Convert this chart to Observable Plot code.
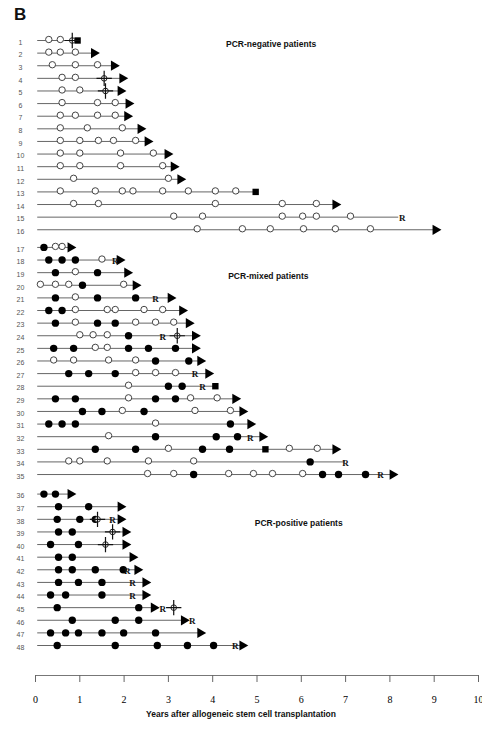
<!DOCTYPE html>
<html><head><meta charset="utf-8">
<script src="https://cdn.jsdelivr.net/npm/d3@7"></script>
<script src="https://cdn.jsdelivr.net/npm/@observablehq/plot@0.6"></script>
<style>
body{margin:0;background:#fff;}
#wrap{position:relative;width:482px;height:729px;}
#panel{position:absolute;left:14px;top:5px;font:bold 17px "Liberation Sans",Arial,sans-serif;color:#111;}
</style></head><body>
<div id="wrap"><div id="panel">B</div><div id="chart"></div></div>
<script>
// ---- data ----
const patients = d3.range(1, 49);
const groupNames = ["PCR-negative patients", "PCR-mixed patients", "PCR-positive patients"];
const groupFirst = [1, 17, 36];
const groupLabelX = [4.3, 4.35, 4.95];
const groupLabelRow = [1, 19, 38];
const xTicks = d3.range(0, 11);
const axisTitle = "Years after allogeneic stem cell transplantation";

// follow-up end (years) per patient
const lineEnds = [0.95,1.32,1.77,1.96,1.92,2.1,2.07,2.37,2.53,2.98,3.12,3.27,4.97,6.77,8.2,9.03,
  0.79,1.9,2.07,2.26,3.05,3.31,3.46,3.6,3.6,3.72,3.9,4.06,4.51,4.67,4.85,5.12,6.77,7.0,8.06,
  0.79,1.92,1.92,2.03,2.03,2.19,2.3,2.48,2.48,2.67,3.35,3.72,4.67];
// a = alive (arrow), s = dead (square), n = none
const endTypes = ["s","a","a","a","a","a","a","a","a","a","a","a","s","a","n","a",
  "a","a","a","a","a","a","a","a","a","a","a","s","a","a","a","a","a","n","a",
  "a","a","a","a","a","a","a","a","a","a","a","a","a"];

// PCR-negative samples (open circles)
const openVals = [
 [0.3,0.56],[0.3,0.56,0.9],[0.38,0.9,1.4],[0.6,0.9],[0.6,1.0],[0.6,1.4,1.8],[0.56,0.9,1.4,1.8],
 [0.56,1.17,1.96],[0.56,1.0,1.42,1.76,2.26],[0.56,1.0,1.92,2.66],[0.56,1.0,1.92,2.87],[0.86,3.0],
 [0.56,1.35,1.96,2.2,2.87,3.45,4.06,4.52],[0.86,1.42,4.06,5.57,6.34],[3.12,3.77,5.57,6.03,6.34,7.11],
 [3.65,4.67,5.3,6.05,6.77,7.56],
 [0.45,0.6],[1.5],[0.9],[0.11,0.45,0.75,1.99],[0.9],[0.9,1.62,1.8,2.45,2.87],[0.9,2.26,2.71,3.12],
 [1.0,1.3,1.62],[1.35,1.62],[0.41,0.86,1.65,2.26],[2.26,2.71,3.16],[2.1],[2.1,3.5,4.1],[1.96,3.6,4.4],
 [2.71],[1.65],[3.0,5.73,6.36],[0.75,1.0,1.62,2.55,3.57],[2.53,3.12,4.36,4.92,5.35,6.03],
 [],[],[],[],[],[],[],[],[],[],[],[],[]
];
// PCR-positive samples (filled circles)
const filledVals = [
 [],[],[],[],[],[],[],[],[],[],[],[],[],[],[],[],
 [0.19],[0.3,0.6,0.9],[0.45,1.4],[1.06],[0.45,1.4,2.26],[0.3,0.6],[0.45,1.4,1.8],[2.1],
 [0.41,0.86,2.1,2.55,3.16],[2.71,3.46],[0.75,1.2,1.8],[3.0,3.31],[0.45,0.9,2.71,3.16],[1.06,1.5,2.45],
 [0.3,0.6,0.9,4.4],[2.71,4.08,4.56],[1.35,2.26,3.77,4.38],[6.2],[3.57,6.48,6.84,7.45],
 [0.19,0.45],[0.52,1.2],[0.49,1.0,1.35],[0.52,0.83],[0.34,0.97],[0.52,0.83],[0.52,0.83,1.35,1.98],
 [0.52,0.97,1.5],[0.34,0.68,1.5],[0.49,2.33],[0.83,1.8,2.33],[0.34,0.68,0.97,1.5,1.99,2.71],
 [0.49,1.8,2.75,3.43,4.02]
];
// relapse markers "R"
const relapsePatient = [15,18,21,24,27,28,32,34,35,38,42,43,44,45,46,48];
const relapseYear    = [8.28,1.8,2.71,2.87,3.6,3.77,4.85,7.0,7.79,1.74,2.07,2.19,2.19,2.87,3.54,4.51];
// DLI / cross markers
const crossPatient = [1,4,5,24,38,39,40,45];
const crossYear    = [0.83,1.55,1.58,3.2,1.4,1.74,1.58,3.12];
// intermediate squares
const squarePatient = [33];
const squareYear = [5.19];

// ---- build tables ----
const gap = p => p >= groupFirst[2] ? 0.95 : p >= groupFirst[1] ? 0.4 : 0;
const pos = p => p + gap(p);
const rows = patients.map((p, i) => ({p, pos: pos(p), end: lineEnds[i], type: endTypes[i]}));
const openPts = patients.flatMap((p, i) => openVals[i].map(x => ({x, y: pos(p)})));
const filledPts = patients.flatMap((p, i) => filledVals[i].map(x => ({x, y: pos(p)})));
const relapses = relapsePatient.map((p, i) => ({x: relapseYear[i], y: pos(p)}));
const crosses = crossPatient.map((p, i) => ({x: crossYear[i], y: pos(p)}));
const squares = squarePatient.map((p, i) => ({x: squareYear[i], y: pos(p)}))
  .concat(rows.filter(d => d.type === "s").map(d => ({x: d.end, y: d.pos})));
const arrows = rows.filter(d => d.type === "a");
const groupLabels = groupNames.map((t, i) => ({t, x: groupLabelX[i], y: pos(groupLabelRow[i])}));

const chart = Plot.plot({
  width: 482, height: 729,
  marginLeft: 35, marginRight: 4, marginTop: 0, marginBottom: 54,
  style: {background: "#fff", fontFamily: "'Liberation Sans', Arial, sans-serif"},
  x: {domain: [0, 10]},
  y: {domain: [1, 48.95], range: [40, 645], axis: null},
  marks: [
    Plot.frame({anchor: "bottom", stroke: "#777"}),
    Plot.axisX({ticks: xTicks, tickSize: 7, tickPadding: 13, fontSize: 10,
      fontFamily: "'Liberation Serif', serif", label: null, stroke: "#666"}),
    Plot.text([axisTitle], {frameAnchor: "bottom", dx: -16, dy: 41, fontSize: 8.5, fontWeight: "bold", fill: "#111"}),
    Plot.ruleY(rows, {y: "pos", x1: 0.05, x2: "end", stroke: "#666", strokeWidth: 1}),
    Plot.text(rows, {x: 0, y: "pos", text: d => String(d.p), dx: -15, dy: 2, fontSize: 7, fill: "#555"}),
    Plot.dot(openPts, {x: "x", y: "y", r: 3.2, fill: "#fff", stroke: "#444", strokeWidth: 1, dy: -1}),
    Plot.dot(filledPts, {x: "x", y: "y", r: 3.7, fill: "#000"}),
    Plot.dot(squares, {x: "x", y: "y", symbol: "square", r: 3.6, fill: "#000"}),
    Plot.dot(arrows, {x: "end", y: "pos", symbol: "triangle", rotate: 90, r: 3.8, fill: "#000"}),
    Plot.dot(crosses, {x: "x", y: "y", r: 2.8, fill: "#fff", stroke: "#222", strokeWidth: 1}),
    Plot.dot(crosses, {x: "x", y: "y", symbol: "plus", r: 5, stroke: "#111", strokeWidth: 1.2}),
    Plot.text(relapses, {x: "x", y: "y", text: () => "R", fontSize: 9, fontWeight: "bold",
      fontFamily: "'Liberation Serif', serif", fill: "#111", dy: 1}),
    Plot.text(groupLabels, {x: "x", y: "y", text: "t", textAnchor: "start", fontSize: 8.5,
      fontWeight: "bold", fill: "#111", dy: 4})
  ]
});
document.getElementById("chart").appendChild(chart);
</script>
</body></html>
